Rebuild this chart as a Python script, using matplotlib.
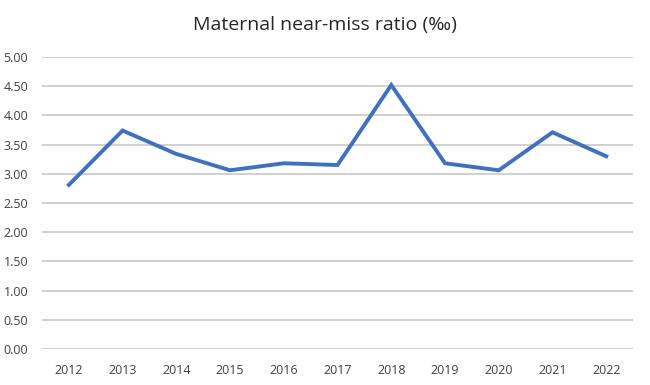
import matplotlib.pyplot as plt

years = ["2012", "2013", "2014", "2015", "2016", "2017", "2018", "2019", "2020", "2021", "2022"]
ratio = [2.81, 3.74, 3.34, 3.06, 3.18, 3.15, 4.52, 3.18, 3.06, 3.71, 3.30]
y_ticks = [0, 0.5, 1.0, 1.5, 2.0, 2.5, 3.0, 3.5, 4.0, 4.5, 5.0]

plt.rcParams['font.family'] = ['Open Sans', 'DejaVu Sans']

fig = plt.figure(figsize=(6.5, 3.85), dpi=100)
ax = fig.add_axes([0.0646, 0.0935, 0.9094, 0.7585])

ax.plot(range(len(years)), ratio, color="#4070BE", lw=2.8, solid_joinstyle="miter")

ax.set_xlim(-0.5, len(years) - 0.5)
ax.set_ylim(0, 5)
ax.set_yticks(y_ticks)
ax.set_yticklabels([f"{v:.2f}" for v in y_ticks])
ax.set_xticks(range(len(years)))
ax.set_xticklabels(years)
ax.tick_params(length=0, labelsize=9, colors="#404040")
ax.tick_params(axis="y", pad=10)
ax.tick_params(axis="x", pad=11)
ax.grid(axis="y", color="#C8C8C8", lw=1.2)
ax.set_axisbelow(True)
for s in ax.spines.values():
    s.set_visible(False)

fig.text(0.5, 0.935, "Maternal near-miss ratio (‰)", ha="center", va="center",
         fontsize=14, color="#262626")

fig.savefig("out.png", dpi=100)
